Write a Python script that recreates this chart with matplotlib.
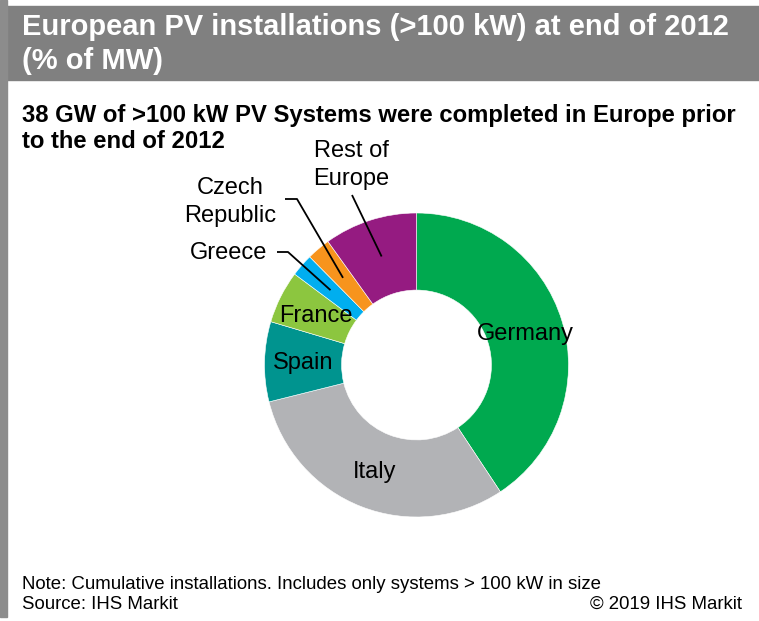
import numpy as np
import matplotlib
matplotlib.use("Agg")
import matplotlib.pyplot as plt
from matplotlib.patches import Rectangle

plt.rcParams["font.family"] = ["Liberation Sans", "DejaVu Sans"]

# share of MW (clockwise from 12 o'clock)
countries = ["Germany", "Italy", "Spain", "France", "Greece", "Czech\nRepublic", "Rest of\nEurope"]
shares = [40.7, 30.4, 8.5, 5.6, 2.4, 2.5, 9.9]
colors = ["#00A94F", "#B2B3B6", "#00948F", "#8CC63F", "#00AEEF", "#F7941D", "#951B81"]

W, H = 759, 621
fig = plt.figure(figsize=(W / 100, H / 100), dpi=100)

# header band and left border
fig.patches.append(Rectangle((0, 1 - 80 / H), 1, 74 / H, transform=fig.transFigure,
                             color="#808080", zorder=0))
fig.patches.append(Rectangle((0, 1 - 617 / H), 7 / W, 617 / H, transform=fig.transFigure,
                             color="#8C8C8C", zorder=0))

fig.text(22 / W, 1 - 35 / H, "European PV installations (>100 kW) at end of 2012",
         color="white", fontsize=21, fontweight="bold", va="baseline")
fig.text(22 / W, 1 - 69 / H, "(% of MW)",
         color="white", fontsize=21, fontweight="bold", va="baseline")

fig.text(22 / W, 1 - 122 / H, "38 GW of >100 kW PV Systems were completed in Europe prior",
         fontsize=17.2, fontweight="bold", va="baseline")
fig.text(22 / W, 1 - 148 / H, "to the end of 2012",
         fontsize=17.2, fontweight="bold", va="baseline")

fig.text(22 / W, 1 - 589 / H, "Note: Cumulative installations. Includes only systems > 100 kW in size",
         fontsize=13.4, va="baseline")
fig.text(22 / W, 1 - 609 / H, "Source: IHS Markit", fontsize=13.4, va="baseline")
fig.text(742 / W, 1 - 609 / H, "\u00a9 2019 IHS Markit", fontsize=13.4, va="baseline", ha="right")

# donut: centre (416.5, 365) px, outer radius 152 px
cx, cy, r = 416.5, 365, 152
ax = fig.add_axes([(cx - r) / W, (H - cy - r) / H, 2 * r / W, 2 * r / H])
wedges, _ = ax.pie(shares, colors=colors, startangle=90, counterclock=False,
                   radius=1, wedgeprops=dict(width=0.507, edgecolor="white", linewidth=0.4))
ax.set_xlim(-1, 1)
ax.set_ylim(-1, 1)
ax.set_aspect("equal")
ax.axis("off")

def px(x, y):
    # pixel position -> donut data coords
    return (x - cx) / r, (cy - y) / r

# labels inside the ring
for name, (x, y) in zip(countries[:4], [(525, 334), (375, 472), (303, 363), (316, 316)]):
    ax.text(*px(x, y), name, fontsize=17, ha="center", va="center")

# labels outside with leader lines
outside = {
    4: ((229, 253), [(277, 252), (288, 252)]),
    5: ((230, 202), [(285, 199), (297, 199)]),
    6: ((351, 165), [(352, 195)]),
}
for i, ((lx, ly), elbow) in outside.items():
    w = wedges[i]
    mid = np.deg2rad((w.theta1 + w.theta2) / 2)
    end = (0.75 * np.cos(mid), 0.75 * np.sin(mid))
    pts = [px(*p) for p in elbow] + [end]
    ax.plot([p[0] for p in pts], [p[1] for p in pts], color="black", lw=1.3,
            clip_on=False, solid_capstyle="butt")
    ax.text(*px(lx, ly), countries[i], fontsize=17, ha="center", va="center",
            linespacing=1.3)

fig.savefig("out.png", dpi=100)
